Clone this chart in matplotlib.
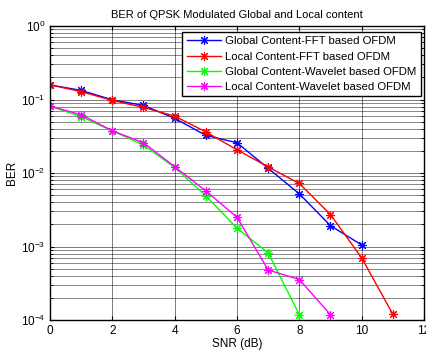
import matplotlib
matplotlib.use("Agg")
import matplotlib.pyplot as plt
from matplotlib.ticker import LogLocator, NullFormatter

plt.rcParams['font.family'] = ['Liberation Sans', 'DejaVu Sans']

snr_fft_global = [0, 1, 2, 3, 4, 5, 6, 7, 8, 9, 10]
ber_fft_global = [0.158, 0.133, 0.099, 0.083, 0.0555, 0.0325, 0.0258, 0.0116, 0.0052, 0.00192, 0.00105]
snr_fft_local = [0, 1, 2, 3, 4, 5, 6, 7, 8, 9, 10, 11]
ber_fft_local = [0.158, 0.128, 0.097, 0.078, 0.0595, 0.0362, 0.0207, 0.0121, 0.0072, 0.00272, 0.00070, 0.000120]
snr_wav_global = [0, 1, 2, 3, 4, 5, 6, 7, 8]
ber_wav_global = [0.0815, 0.0583, 0.0375, 0.0240, 0.0119, 0.0049, 0.00177, 0.00082, 0.000118]
snr_wav_local = [0, 1, 2, 3, 4, 5, 6, 7, 8, 9]
ber_wav_local = [0.0815, 0.062, 0.0375, 0.0258, 0.0122, 0.0057, 0.00250, 0.00048, 0.000355, 0.000118]

labels = ['Global Content-FFT based OFDM', 'Local Content-FFT based OFDM',
          'Global Content-Wavelet based OFDM', 'Local Content-Wavelet based OFDM']
colors = ['#0000ff', '#ff0000', '#00ff00', '#ff00ff']

fig = plt.figure(figsize=(4.27, 3.54), dpi=100)
ax = fig.add_axes([50/427, 1 - 320/354, 374/427, 294/354])

series = [(snr_fft_global, ber_fft_global), (snr_fft_local, ber_fft_local),
          (snr_wav_global, ber_wav_global), (snr_wav_local, ber_wav_local)]
for (x, y), c, lab in zip(series, colors, labels):
    ax.semilogy(x, y, '-', color=c, marker=(8, 2, 0), markersize=6.5, markeredgewidth=0.8,
                linewidth=1.0, label=lab)

ax.set_xlim(0, 12)
ax.set_ylim(1e-4, 1)
ax.set_xticks([0, 2, 4, 6, 8, 10, 12])
ax.yaxis.set_major_locator(LogLocator(base=10, numticks=10))
ax.yaxis.set_minor_locator(LogLocator(base=10, subs=range(2, 10), numticks=100))
ax.yaxis.set_minor_formatter(NullFormatter())
ax.grid(True, which='major', color='black', linewidth=0.6, alpha=0.6)
ax.grid(True, which='minor', axis='y', color='black', linewidth=0.6, alpha=0.55)
ax.tick_params(which='both', direction='in', top=True, right=True, labelsize=8.5)
ax.tick_params(which='major', length=3)
ax.tick_params(which='minor', length=2)
for s in ax.spines.values():
    s.set_linewidth(1.0)

ax.set_title('BER of QPSK Modulated Global and Local content', fontsize=8, pad=6)
ax.set_xlabel('SNR (dB)', fontsize=8.5, labelpad=1)
ax.set_ylabel('BER', fontsize=8.5, labelpad=2)

leg = ax.legend(loc='upper right', bbox_to_anchor=(0.992, 0.98), fontsize=8.2,
                frameon=True, fancybox=False, edgecolor='black', framealpha=1,
                borderpad=0.4, labelspacing=0.45, handlelength=3.0, handletextpad=0.35,
                borderaxespad=0)
leg.get_frame().set_linewidth(1.0)

fig.savefig('out.png', dpi=100)
